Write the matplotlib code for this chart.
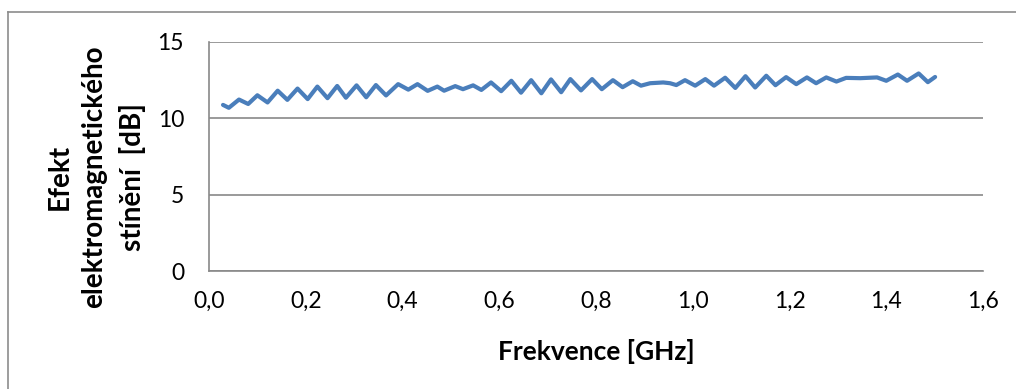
import matplotlib.pyplot as plt
from matplotlib.lines import Line2D
from matplotlib.ticker import FuncFormatter

# values
freq_ghz = [0.029, 0.041, 0.062, 0.081, 0.100, 0.121, 0.142, 0.162, 0.183, 0.204,
            0.224, 0.245, 0.265, 0.283, 0.305, 0.325, 0.345, 0.366, 0.391, 0.412,
            0.431, 0.452, 0.472, 0.486, 0.509, 0.525, 0.546, 0.563, 0.583, 0.604,
            0.625, 0.645, 0.666, 0.687, 0.707, 0.728, 0.747, 0.769, 0.792, 0.812,
            0.835, 0.855, 0.876, 0.893, 0.912, 0.939, 0.953, 0.966, 0.984, 1.005,
            1.026, 1.044, 1.067, 1.088, 1.109, 1.129, 1.152, 1.171, 1.193, 1.214,
            1.236, 1.255, 1.276, 1.297, 1.317, 1.346, 1.381, 1.400, 1.424, 1.443,
            1.467, 1.486, 1.501]
shielding_db = [10.88, 10.69, 11.23, 10.94, 11.51, 11.04, 11.81, 11.21, 11.95, 11.26,
                12.08, 11.32, 12.12, 11.35, 12.16, 11.38, 12.18, 11.50, 12.24, 11.88,
                12.24, 11.80, 12.08, 11.81, 12.11, 11.91, 12.16, 11.86, 12.35, 11.78,
                12.46, 11.68, 12.50, 11.64, 12.55, 11.71, 12.57, 11.83, 12.57, 11.91,
                12.50, 12.04, 12.43, 12.14, 12.30, 12.35, 12.30, 12.18, 12.50, 12.14,
                12.57, 12.14, 12.66, 11.99, 12.76, 12.02, 12.79, 12.17, 12.70, 12.24,
                12.68, 12.30, 12.68, 12.41, 12.65, 12.63, 12.68, 12.46, 12.87, 12.46,
                12.94, 12.37, 12.71]

x_ticks = [0.0, 0.2, 0.4, 0.6, 0.8, 1.0, 1.2, 1.4, 1.6]
y_ticks = [0, 5, 10, 15]
y_label_lines = ['Efekt', 'elektromagnetického', 'stínění  [dB]']

plt.rcParams['font.family'] = ['Lato', 'DejaVu Sans']

W, H = 1016, 389
fig = plt.figure(figsize=(W / 100, H / 100), dpi=100)
ax = fig.add_axes([209 / W, 1 - 271 / H, 774 / W, 229 / H])

grid_col = '#898989'
ax.plot(freq_ghz, shielding_db, color='#4a7ebb', lw=3.0, solid_joinstyle='round',
        solid_capstyle='round', zorder=3)

ax.set_xlim(0, 1.6)
ax.set_ylim(0, 15)
ax.set_xticks(x_ticks)
ax.set_yticks(y_ticks)
ax.xaxis.set_major_formatter(FuncFormatter(lambda v, p: f'{v:.1f}'.replace('.', ',')))
ax.grid(axis='y', color=grid_col, lw=1.2)
ax.tick_params(length=0, labelsize=16.5, colors='black')
ax.tick_params(axis='x', pad=14)
ax.tick_params(axis='y', pad=18)
for s in ['top', 'right']:
    ax.spines[s].set_visible(False)
for s in ['left', 'bottom']:
    ax.spines[s].set_color(grid_col)
    ax.spines[s].set_linewidth(1.2)

ax.set_xlabel('Frekvence [GHz]', fontsize=19, fontweight='bold', labelpad=20)

# y label: three rotated lines, placed as in the source chart
for txt, cx in zip(y_label_lines, [60, 94, 133]):
    fig.text(cx / W, 1 - 177 / H, txt, rotation=90, ha='center', va='center',
             fontsize=20, fontweight='bold')

# outer chart frame (only the left and top edges are in view)
fig.add_artist(Line2D([8 / W, 8 / W], [0, 1 - 12 / H], color='#8c8c8c', lw=1.2))
fig.add_artist(Line2D([8 / W, 1], [1 - 12 / H, 1 - 12 / H], color='#8c8c8c', lw=1.2))

fig.savefig('out.png', dpi=100)
